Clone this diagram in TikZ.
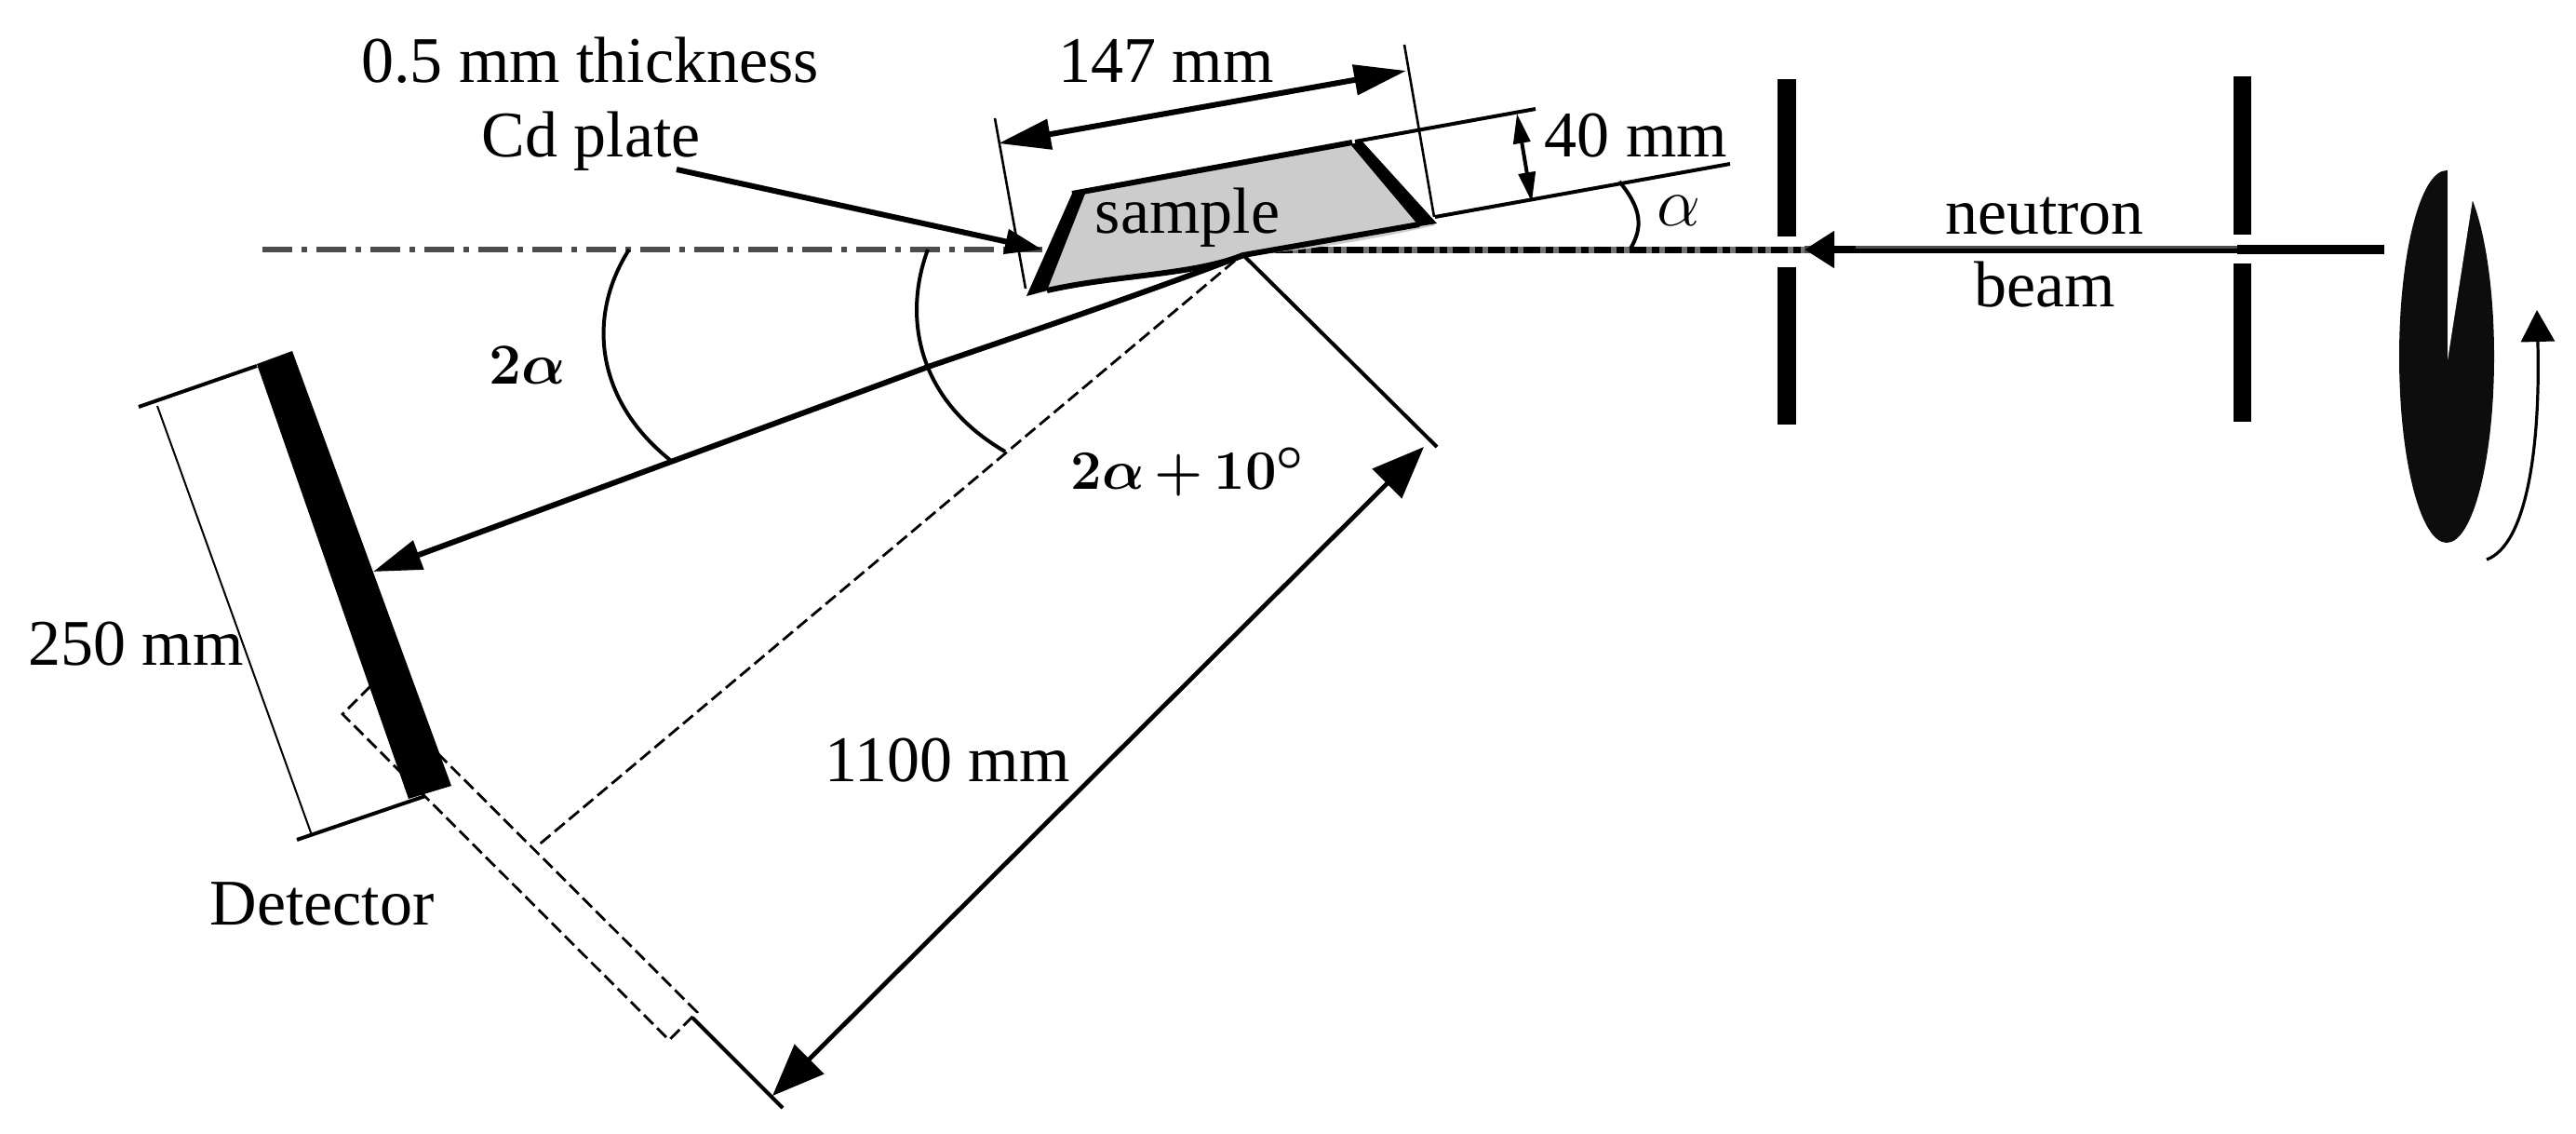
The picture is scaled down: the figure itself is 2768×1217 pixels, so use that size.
\documentclass[tikz,border=0pt]{standalone}
\usepackage{fontspec}
\setmainfont{Liberation Serif}
\usetikzlibrary{arrows.meta}
\tikzset{
  lbl/.style={inner sep=0pt,font=\fontsize{35}{39}\selectfont},
  mlbl/.style={inner sep=0pt,font=\fontsize{30}{34}\selectfont\boldmath},
  thinl/.style={line width=1.3pt,black},
  medl/.style={line width=2pt,black},
  thick2/.style={line width=3pt,black},
  dashl/.style={line width=1.4pt,black,dash pattern=on 7pt off 3pt},
  bar/.style={fill=black,draw=none},
  bigtips/.style={{Triangle[length=28pt,width=16pt]}-{Triangle[length=28pt,width=16pt]}},
}
\begin{document}
\begin{tikzpicture}[x=0.5pt,y=-0.5pt]
\useasboundingbox (0,0) rectangle (2768,1217);
% key coordinates
\coordinate (apex) at (1336,274);
\coordinate (axisL) at (282,268);
\coordinate (axisM) at (1120,268);
\coordinate (beamL) at (1333,268);
\coordinate (beamTip) at (1939,268);
\coordinate (beamE) at (2404,268);
\coordinate (beamS) at (2562,268);
\coordinate (sTL) at (1152,208);
\coordinate (sTR) at (1453,153);
\coordinate (sBR) at (1542,242);
\coordinate (sBL) at (1103,318);
% axis and beam
\draw[line width=2.6pt,black!70,dash pattern=on 16pt off 5pt on 3pt off 5pt] (axisL) -- (axisM);
\draw[line width=3.5pt,black!55] (beamL) -- (beamTip);
\draw[line width=3.5pt,black,dash pattern=on 9pt off 3pt on 4pt off 3pt] (beamL) -- (beamTip);
\draw[line width=4pt,black!70] (beamTip) -- (beamE);
\draw[line width=2.6pt,black] (1994,269.5) -- (2404,269.5);
\draw[line width=5pt,black] (beamE) -- (beamS);
\draw[line width=4pt,black,-{Triangle[length=16pt,width=19pt]}] (1994,268) -- (beamTip);
% sample
\fill[black!20] (sTL) -- (sTR) -- (sBR) .. controls (1420,270) and (1350,272) .. (apex) .. controls (1280,296) and (1200,295) .. (sBL) -- cycle;
\draw[thick2] (sTL) -- (sTR);
\draw[thick2] (1125,312) .. controls (1200,295) and (1280,296) .. (apex) -- (1525,241);
\path[bar] (1152,208) -- (1166,208) -- (1125,312) -- (1103,318) -- cycle;
\path[bar] (1451,155) -- (1464,152) -- (1544,240) -- (1525,243) -- cycle;
% sample extents
\coordinate (tlA) at (1456,152); \coordinate (tlB) at (1650,117);
\coordinate (blA) at (1542,233); \coordinate (blB) at (1859,176);
\draw[medl] (tlA) -- (tlB);
\draw[medl] (blA) -- (blB);
\coordinate (eL1) at (1069,127); \coordinate (eL2) at (1102,310);
\coordinate (eR1) at (1509,48); \coordinate (eR2) at (1541,233);
\draw[thinl] (eL1) -- (eL2);
\draw[thinl] (eR1) -- (eR2);
\coordinate (a147L) at (1073,154); \coordinate (a147R) at (1511,76);
\draw[thick2,bigtips] (a147L) -- (a147R);
\coordinate (a40T) at (1630,122); \coordinate (a40B) at (1646,217);
\draw[medl,{Triangle[length=16pt,width=9pt]}-{Triangle[length=16pt,width=9pt]}] (a40T) -- (a40B);
% angle arcs
\coordinate (alA) at (1740,195); \coordinate (alB) at (1752,267);
\draw[medl] (alA) .. controls (1765,225) and (1765,245) .. (alB);
\coordinate (a2S) at (676,268); \coordinate (a2E) at (720,494);
\draw[medl] (a2S) .. controls (630,340) and (640,430) .. (a2E);
\coordinate (a3S) at (997,268); \coordinate (a3E) at (1080,485);
\draw[medl] (a3S) .. controls (970,340) and (985,430) .. (a3E);
% slits
\path[bar] (1910,85) rectangle (1930,254);
\path[bar] (1910,287) rectangle (1930,456);
\path[bar] (2400,82) rectangle (2419,252);
\path[bar] (2400,283) rectangle (2419,453);
% chopper
\fill[black!95] (2629,383) ellipse [x radius=51,y radius=200];
\fill[white] (2630,175) -- (2630,387) -- (2657,214) -- (2700,175) -- cycle;
\fill[white] (2657,214) -- (2700,175) -- (2700,300) -- cycle;
\coordinate (rotS) at (2672,601); \coordinate (rotE) at (2726,333);
\draw[line width=1.6pt,-{Triangle[length=17pt,width=18pt]}] (rotS) .. controls (2715,585) and (2730,480) .. (rotE);
% cd plate arrow
\coordinate (cdS) at (727,182); \coordinate (cdE) at (1120,268);
\draw[thick2,-{Triangle[length=20pt,width=13pt]}] (cdS) -- (cdE);
% reflected beam
\coordinate (detHit) at (401,614);
\draw[thick2,-{Triangle[length=26pt,width=16pt]}] (apex) .. controls (1290,292) and (1200,325) .. (1000,393) -- (detHit);
% dashed frame
\coordinate (rA) at (368,767); \coordinate (rB) at (398,737);
\coordinate (rC) at (749,1087); \coordinate (rD) at (719,1117);
\draw[dashl] (rB) -- (rA) -- (rD) -- (rC) -- (rB);
% detector
\path[bar] (276,391) -- (314,377) -- (485,844) -- (439,858) -- cycle;
\coordinate (tTa) at (149,437); \coordinate (tTb) at (276,393);
\coordinate (tBa) at (319,902); \coordinate (tBb) at (457,855);
\draw[medl] (tTa) -- (tTb);
\draw[medl] (tBa) -- (tBb);
\coordinate (dimA) at (169,436); \coordinate (dimB) at (335,897);
\draw[line width=1pt] (dimA) -- (dimB);
\coordinate (dashE) at (577,909);
\draw[dashl] (1327,280) -- (dashE);
% distance
\coordinate (perpE) at (1544,480);
\draw[medl] (apex) -- (perpE);
\coordinate (perpS) at (744,1093); \coordinate (perpT) at (841,1190);
\draw[medl] (perpS) -- (perpT);
\coordinate (d1) at (830,1177); \coordinate (d2) at (1530,480);
\draw[line width=2.4pt,black,{Triangle[length=28pt,width=22pt]}-{Triangle[length=28pt,width=22pt]}] (d1) -- (d2);
% labels
\node[lbl] (tThick) at (634,65) {0.5 mm thickness};
\node[lbl] (tCd) at (635,152) {Cd plate};
\node[lbl] (t147) at (1253,65) {147 mm};
\node[lbl] (t40) at (1758,146) {40 mm};
\node[lbl] (tSample) at (1276,234) {sample};
\node[lbl] (tAlpha) at (1804,226) {\scalebox{1.5}{$\alpha$}};
\node[lbl] (tNeutron) at (2197,232) {neutron};
\node[lbl] (tBeam) at (2197,306) {beam};
\node[mlbl] (t2a) at (567,392) {\scalebox{1.25}{$2\alpha$}};
\node[mlbl] (t2a10) at (1276,507) {\scalebox{1.2}{$2\alpha\,{+}\,10^{\circ}$}};
\node[lbl] (t250) at (146,692) {250 mm};
\node[lbl] (t1100) at (1018,817) {1100 mm};
\node[lbl] (tDet) at (346,971) {Detector};
\end{tikzpicture}
\end{document}
